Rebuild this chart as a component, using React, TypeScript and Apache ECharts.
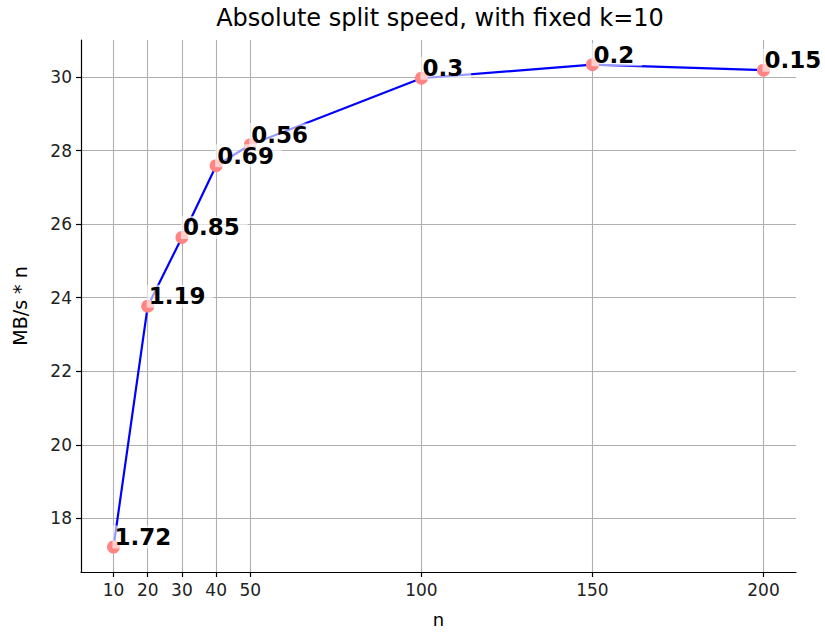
import React, { useEffect, useRef } from "react";
import * as echarts from "echarts";

const nValues = [10, 20, 30, 40, 50, 100, 150, 200];
const speedValues = [17.22, 23.77, 25.64, 27.59, 28.16, 29.97, 30.34, 30.19];
const pointLabels = ["1.72", "1.19", "0.85", "0.69", "0.56", "0.3", "0.2", "0.15"];
const xTicks = [10, 20, 30, 40, 50, 100, 150, 200];
const yTicks = [18, 20, 22, 24, 26, 28, 30];

const FONT = "DejaVu Sans";

export default function App() {
  const ref = useRef<HTMLDivElement>(null);
  useEffect(() => {
    if (!ref.current) return;
    const chart = echarts.init(ref.current, undefined, { renderer: "svg" });
    const data = nValues.map((n, i) => [n, speedValues[i], pointLabels[i]]);
    chart.setOption({
      animation: false,
      backgroundColor: "#ffffff",
      title: {
        text: "Absolute split speed, with fixed k=10",
        left: 435,
        top: 1,
        textAlign: "center",
        textStyle: { fontFamily: FONT, fontSize: 24, fontWeight: "normal", color: "#000" },
      },
      grid: { left: 81, right: 29, top: 40, bottom: 64, containLabel: false },
      xAxis: {
        type: "value",
        min: 0.5,
        max: 209.5,
        name: "n",
        nameLocation: "middle",
        nameGap: 38,
        nameTextStyle: { fontFamily: FONT, fontSize: 18, color: "#000" },
        axisLine: { show: true, onZero: false, lineStyle: { color: "#000", width: 1.2 } },
        axisTick: { show: true, inside: false, length: 5, customValues: xTicks, lineStyle: { color: "#000", width: 1.2 } },
        axisLabel: { customValues: xTicks, margin: 9, fontFamily: FONT, fontSize: 17, color: "#222" },
        splitLine: { show: true, lineStyle: { color: "#b0b0b0", width: 1.1 } },
      },
      yAxis: {
        type: "value",
        min: 16.54,
        max: 31.01,
        name: "MB/s * n",
        nameLocation: "middle",
        nameGap: 52,
        nameTextStyle: { fontFamily: FONT, fontSize: 19, color: "#000" },
        axisLine: { show: true, onZero: false, lineStyle: { color: "#000", width: 1.2 } },
        axisTick: { show: true, inside: false, length: 5, customValues: yTicks, lineStyle: { color: "#000", width: 1.2 } },
        axisLabel: { customValues: yTicks, margin: 9, fontFamily: FONT, fontSize: 17, color: "#222" },
        splitLine: { show: true, lineStyle: { color: "#b0b0b0", width: 1.1 } },
      },
      series: [
        {
          type: "line",
          data,
          symbol: "circle",
          symbolSize: 13,
          showAllSymbol: true,
          lineStyle: { color: "#0000ff", width: 2.2 },
          itemStyle: { color: "#ff8585" },
          label: {
            show: true,
            formatter: (p: any) => p.value[2],
            position: [5.5, 8],
            align: "left",
            verticalAlign: "bottom",
            fontFamily: FONT,
            fontSize: 23,
            fontWeight: "bold",
            color: "#000",
            backgroundColor: "rgba(255,255,255,0.6)",
            padding: [0, 8, 0, 2],
          },
          emphasis: { disabled: true },
        },
      ],
    });
    return () => chart.dispose();
  }, []);
  return (
    <div
      ref={ref}
      style={{ position: "fixed", left: 0, top: 0, width: 825, height: 636 }}
    />
  );
}
